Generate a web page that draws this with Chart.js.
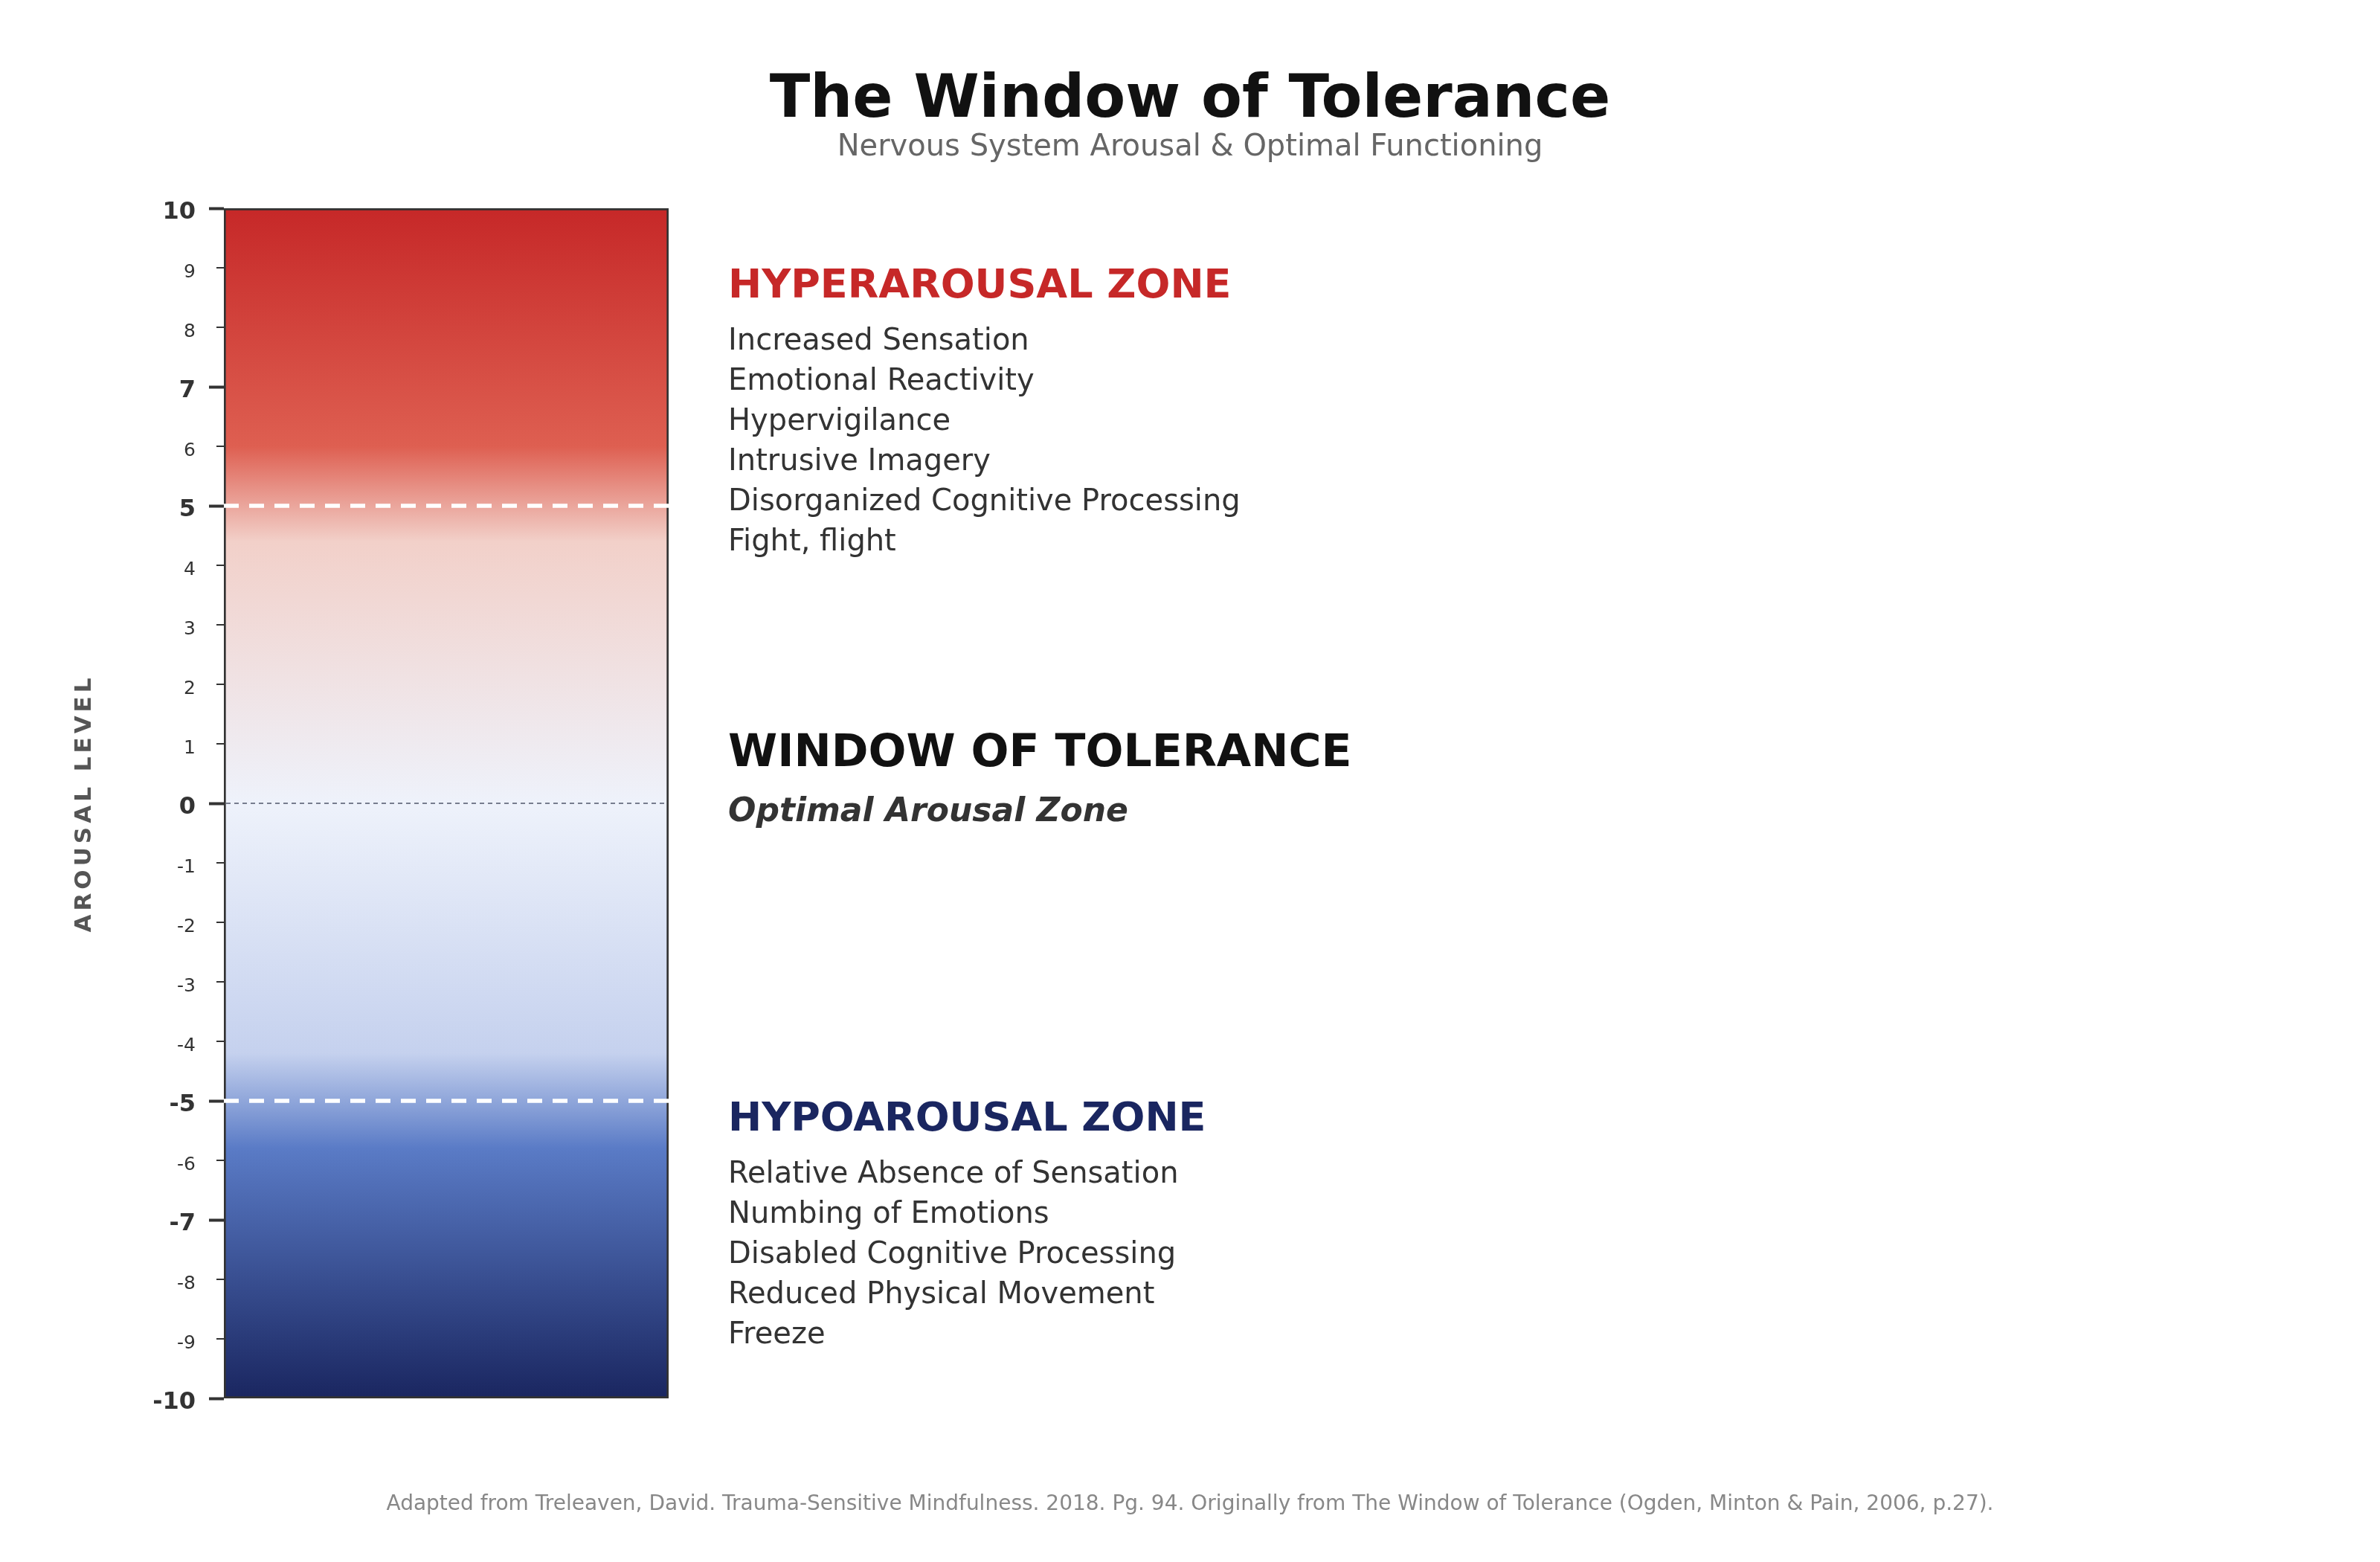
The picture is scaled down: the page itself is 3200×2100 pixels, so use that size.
<!DOCTYPE html>
<html>
<head>
<meta charset="utf-8">
<title>The Window of Tolerance</title>
<script src="https://cdn.jsdelivr.net/npm/chart.js@4.4.1/dist/chart.umd.min.js"></script>
<style>
    html, body { margin: 0; padding: 0; background: #fff; }
    #wrap { width: 3200px; height: 2100px; }
</style>
</head>
<body>
<div id="wrap"><canvas id="wot" width="3200" height="2100"></canvas></div>
<script>
// arousal scale
const categories = ['Arousal'];
const arousalRange = [-10, 10];
const majorTicks = [-10, -7, -5, 0, 5, 7, 10];
const zoneBounds = [-5, 5];
const midLine = 0;

// colour stops down the bar (level -> colour)
const stopLevels = [10, 6, 4.4, 0, -4.2, -5.8, -10];
const stopColors = ['#c62828', '#de5f51', '#f2d0c9', '#eef2fb', '#c5d1ee', '#5a7bc6', '#1a2660'];

// texts
const chartTitle = 'The Window of Tolerance';
const chartSubtitle = 'Nervous System Arousal & Optimal Functioning';
const axisTitle = 'AROUSAL LEVEL';
const hyperTitle = 'HYPERAROUSAL ZONE';
const hyperItems = ['Increased Sensation', 'Emotional Reactivity', 'Hypervigilance',
    'Intrusive Imagery', 'Disorganized Cognitive Processing', 'Fight, flight'];
const windowTitle = 'WINDOW OF TOLERANCE';
const windowSub = 'Optimal Arousal Zone';
const hypoTitle = 'HYPOAROUSAL ZONE';
const hypoItems = ['Relative Absence of Sensation', 'Numbing of Emotions', 'Disabled Cognitive Processing',
    'Reduced Physical Movement', 'Freeze'];
const footNote = 'Adapted from Treleaven, David. Trauma-Sensitive Mindfulness. 2018. Pg. 94. Originally from The Window of Tolerance (Ogden, Minton & Pain, 2006, p.27).';

const FONT = '"DejaVu Sans", sans-serif';

function isMajor(v) {
    return majorTicks.indexOf(v) !== -1;
}

// vertical gradient built from the y scale
function barFill(ctx) {
    const chart = ctx.chart;
    const y = chart.scales.y;
    if (!chart.chartArea || !y) return stopColors[0];
    const top = y.getPixelForValue(arousalRange[1]);
    const bottom = y.getPixelForValue(arousalRange[0]);
    const g = chart.ctx.createLinearGradient(0, top, 0, bottom);
    stopLevels.forEach(function (lv, i) {
        g.addColorStop((y.getPixelForValue(lv) - top) / (bottom - top), stopColors[i]);
    });
    return g;
}

// zone boundaries, centre line and the short minor ticks
const overlayPlugin = {
    id: 'overlay',
    afterDatasetsDraw(chart) {
        const c = chart.ctx;
        const y = chart.scales.y;
        const area = chart.chartArea;
        c.save();
        c.strokeStyle = '#ffffff';
        c.lineWidth = 5.5;
        c.setLineDash([20, 14]);
        zoneBounds.forEach(function (v) {
            const py = y.getPixelForValue(v);
            c.beginPath();
            c.moveTo(area.left, py);
            c.lineTo(area.right, py);
            c.stroke();
        });
        c.strokeStyle = 'rgba(105,112,130,0.9)';
        c.lineWidth = 2;
        c.setLineDash([6, 5]);
        const pz = y.getPixelForValue(midLine);
        c.beginPath();
        c.moveTo(area.left + 3, pz);
        c.lineTo(area.right - 3, pz);
        c.stroke();

        c.setLineDash([]);
        c.strokeStyle = '#333';
        c.lineWidth = 2;
        y.ticks.forEach(function (t) {
            if (isMajor(t.value)) return;
            const py = y.getPixelForValue(t.value);
            c.beginPath();
            c.moveTo(area.left - 10, py);
            c.lineTo(area.left, py);
            c.stroke();
        });
        c.restore();
    }
};

// titles, zone descriptions, axis title and footnote
const textPlugin = {
    id: 'texts',
    afterDraw(chart) {
        const c = chart.ctx;
        const y = chart.scales.y;
        const cx = chart.width / 2;
        const tx = 979;
        c.save();
        c.textBaseline = 'alphabetic';

        c.textAlign = 'center';
        c.fillStyle = '#111';
        c.font = 'bold 80px ' + FONT;
        c.fillText(chartTitle, cx, 157);
        c.fillStyle = '#666';
        c.font = '40px ' + FONT;
        c.fillText(chartSubtitle, cx, 209);

        c.textAlign = 'left';
        const blocks = [
            { title: hyperTitle, color: '#c62828', items: hyperItems, at: 8.5 },
            { title: hypoTitle, color: '#1a2660', items: hypoItems, at: -5.5 }
        ];
        blocks.forEach(function (b) {
            const base = y.getPixelForValue(b.at);
            c.fillStyle = b.color;
            c.font = 'bold 54px ' + FONT;
            c.fillText(b.title, tx, base);
            c.fillStyle = '#333';
            c.font = '40px ' + FONT;
            b.items.forEach(function (item, i) {
                c.fillText(item, tx, base + 70 + i * 54);
            });
        });

        const wBase = y.getPixelForValue(0.625);
        c.fillStyle = '#111';
        c.font = 'bold 60px ' + FONT;
        c.fillText(windowTitle, tx, wBase);
        c.fillStyle = '#333';
        c.font = 'italic bold 44px ' + FONT;
        c.fillText(windowSub, tx, wBase + 74);

        c.textAlign = 'center';
        c.fillStyle = '#888';
        c.font = '28px ' + FONT;
        c.fillText(footNote, cx, 2030);

        // rotated axis title with letter spacing
        c.translate(114, (y.top + y.bottom) / 2);
        c.rotate(-Math.PI / 2);
        c.textBaseline = 'middle';
        c.fillStyle = '#555';
        c.font = 'bold 31px ' + FONT;
        c.letterSpacing = '5px';
        c.fillText(axisTitle, 0, 0);
        c.restore();
    }
};

new Chart('wot', {
    type: 'bar',
    data: {
        labels: categories,
        datasets: [{
            label: 'Arousal',
            data: [arousalRange],
            backgroundColor: barFill,
            borderColor: '#333',
            borderWidth: 3,
            borderSkipped: false,
            barPercentage: 1,
            categoryPercentage: 1
        }]
    },
    options: {
        responsive: false,
        devicePixelRatio: 1,
        animation: false,
        layout: { padding: { left: 0, right: 2301, top: 280, bottom: 220 } },
        plugins: {
            legend: { display: false },
            tooltip: { enabled: false },
            title: { display: false }
        },
        scales: {
            x: { display: false },
            y: {
                min: arousalRange[0],
                max: arousalRange[1],
                afterFit: function (s) { s.width = 301; },
                border: { display: false },
                grid: {
                    drawOnChartArea: false,
                    drawTicks: true,
                    tickLength: 20,
                    tickWidth: function (c) { return c.tick && isMajor(c.tick.value) ? 4 : 0; },
                    tickColor: '#333'
                },
                ticks: {
                    stepSize: 1,
                    autoSkip: false,
                    padding: 18,
                    labelOffset: 6,
                    color: '#333',
                    font: function (c) {
                        return c.tick && isMajor(c.tick.value)
                            ? { family: FONT, size: 32, weight: 'bold' }
                            : { family: FONT, size: 25 };
                    }
                }
            }
        }
    },
    plugins: [overlayPlugin, textPlugin]
});
</script>
</body>
</html>
